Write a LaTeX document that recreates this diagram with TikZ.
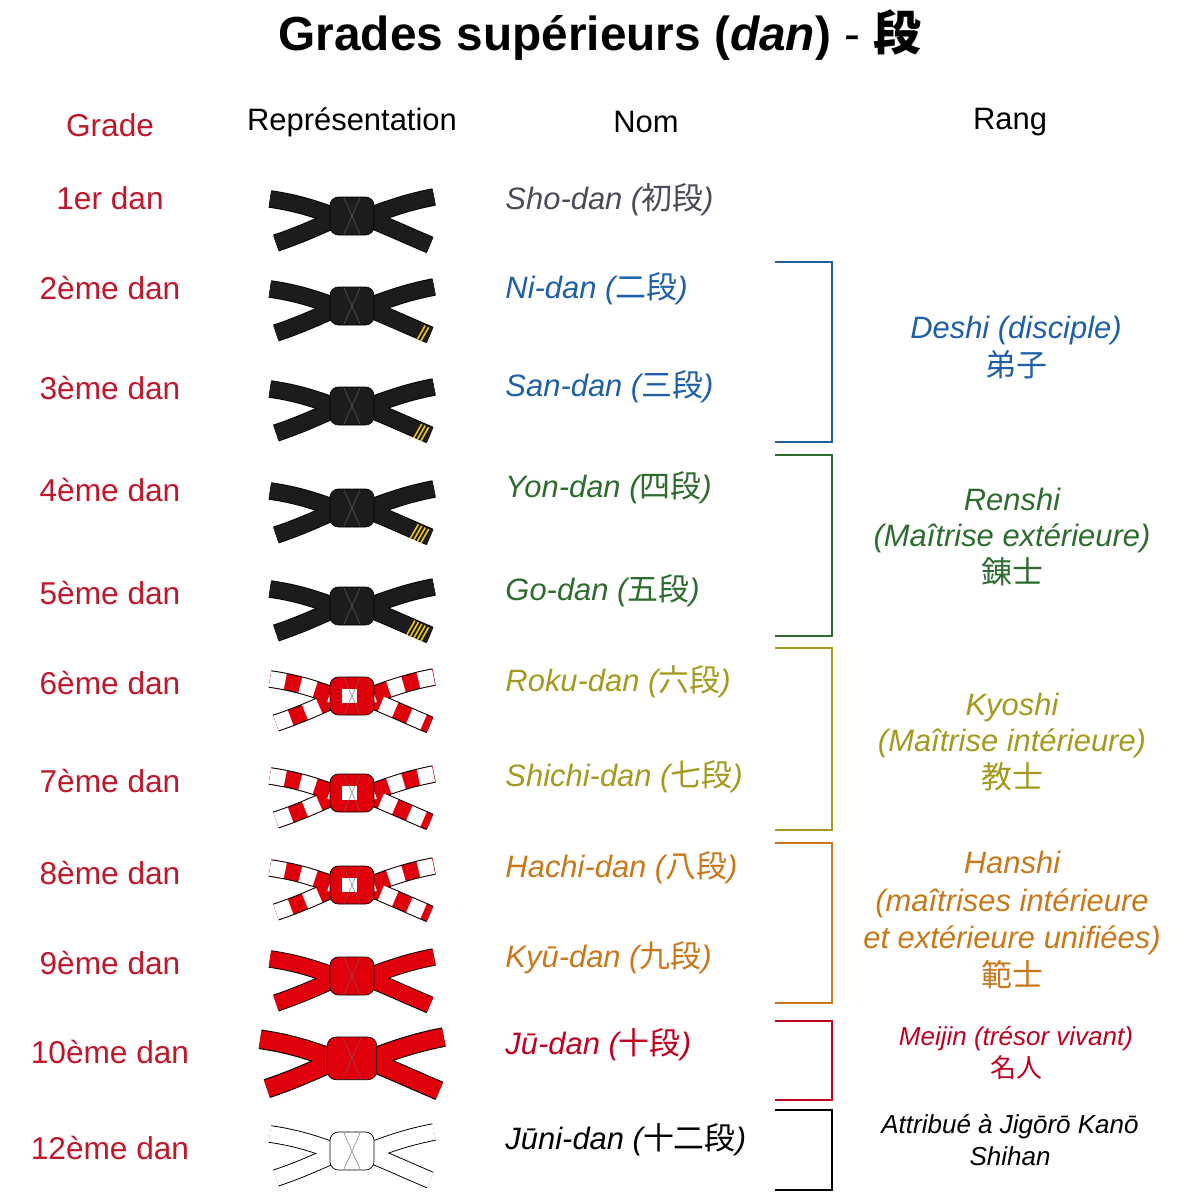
\documentclass[tikz,border=0pt]{standalone}
\usepackage{fontspec}
\setmainfont{Liberation Sans}
\newfontfamily\cjk{Noto Sans CJK JP}
\usetikzlibrary{calc}
\definecolor{cgrade}{HTML}{C0172B}
\definecolor{cblue}{HTML}{1F5FA8}
\definecolor{cgreen}{HTML}{2E6B2E}
\definecolor{colive}{HTML}{A39A1F}
\definecolor{corange}{HTML}{C8781A}
\definecolor{cred}{HTML}{C00020}
\definecolor{cgray}{HTML}{4A4A5A}
\definecolor{cblack}{HTML}{1C1C1C}
\definecolor{cyel}{HTML}{F2C81E}
\definecolor{bred}{HTML}{E0000B}
\newcommand{\beltshape}[1]{%
  \draw[#1] (-82,-14) .. controls (-40,-8) and (-20,4) .. (0,8) .. controls (20,4) and (40,-8) .. (82,-16);
  \draw[#1] (-76,30) .. controls (-40,18) and (-20,6) .. (0,0);
  \draw[#1] (0,0) .. controls (20,6) and (45,18) .. (78,32);}
\newcommand{\beltknot}[2]{%
  \filldraw[draw=black,fill=#1,line width=1pt,rounded corners=12pt] (-22,-16) rectangle (22,22);
  \draw[#2,line width=20pt] (-10,3) -- (10,3);
  \draw[black!60,line width=0.6pt] (-8,-15) -- (8,21) (8,-15) -- (-8,21);}
% #1 x, #2 y, #3 fill colour, #4 overlay style, #5 stripes
\newcommand{\mybelt}[5]{%
  \begin{scope}[shift={(#1,#2)}]
    \beltshape{line width=25pt,black}
    \beltshape{line width=22pt,#3}
    \beltshape{line width=22pt,#4}
    \beltknot{#3}{#4}
    \foreach \i in {1,...,#5}{\ifnum#5>0
      \draw[cyel,line width=2.2pt] ($(76,34)+(-3.4*\i,-1.7*\i)+(-4,6)$) -- ++(8,-14);\fi}
  \end{scope}}
\tikzset{
  grade/.style={text=cgrade,font=\fontsize{45}{50}\selectfont},
  head/.style={font=\fontsize{44}{50}\selectfont},
  nom/.style={anchor=west,font=\fontsize{44}{50}\selectfont\itshape},
  rang/.style={align=center,font=\fontsize{44}{52}\selectfont\itshape},
  brk/.style={line width=2.4pt},
  rw/.style={white,dash pattern=on 22pt off 22pt}
}
\begin{document}
\begin{tikzpicture}[x=0.05cm,y=-0.05cm]
\useasboundingbox (0,0) rectangle (1200,1200);
\node[font=\fontsize{68}{74}\selectfont\bfseries] (title) at (600,35) {Grades supérieurs (\textit{dan}) {\mdseries -} {\cjk 段}};
\node[grade] (hg) at (110,125) {Grade};
\node[head] (hr) at (352,122) {Représentation};
\node[head] (hn) at (646,122) {Nom};
\node[head] (hk) at (1010,122) {Rang};
\node[grade] (g1) at (110,198) {1er dan};
\node[grade] (g2) at (110,288) {2ème dan};
\node[grade] (g3) at (110,388) {3ème dan};
\node[grade] (g4) at (110,490) {4ème dan};
\node[grade] (g5) at (110,593) {5ème dan};
\node[grade] (g6) at (110,683) {6ème dan};
\node[grade] (g7) at (110,781) {7ème dan};
\node[grade] (g8) at (110,873) {8ème dan};
\node[grade] (g9) at (110,963) {9ème dan};
\node[grade] (g10) at (110,1052) {10ème dan};
\node[grade] (g12) at (110,1148) {12ème dan};
\mybelt{352}{213}{cblack}{cblack}{0}
\mybelt{352}{303}{cblack}{cblack}{2}
\mybelt{352}{403}{cblack}{cblack}{3}
\mybelt{352}{505}{cblack}{cblack}{4}
\mybelt{352}{603}{cblack}{cblack}{5}
\mybelt{352}{693}{bred}{rw}{0}
\mybelt{352}{790}{bred}{rw}{0}
\mybelt{352}{882}{bred}{rw}{0}
\mybelt{352}{973}{bred}{bred}{0}
\begin{scope}[shift={(352,1055)},scale=1.12]
\beltshape{line width=28pt,black}\beltshape{line width=25pt,bred}
\beltknot{bred}{bred}
\end{scope}
\mybelt{352}{1148}{white}{white}{0}
\node[nom,text=cgray] (n1) at (503,200) {Sho-dan ({\cjk\upshape 初段})};
\node[nom,text=cblue] (n2) at (503,289) {Ni-dan ({\cjk\upshape 二段})};
\node[nom,text=cblue] (n3) at (503,387) {San-dan ({\cjk\upshape 三段})};
\node[nom,text=cgreen] (n4) at (503,488) {Yon-dan ({\cjk\upshape 四段})};
\node[nom,text=cgreen] (n5) at (503,591) {Go-dan ({\cjk\upshape 五段})};
\node[nom,text=colive] (n6) at (503,682) {Roku-dan ({\cjk\upshape 六段})};
\node[nom,text=colive] (n7) at (503,777) {Shichi-dan ({\cjk\upshape 七段})};
\node[nom,text=corange] (n8) at (503,868) {Hachi-dan ({\cjk\upshape 八段})};
\node[nom,text=corange] (n9) at (503,958) {Kyū-dan ({\cjk\upshape 九段})};
\node[nom,text=cred] (n10) at (503,1045) {Jū-dan ({\cjk\upshape 十段})};
\node[nom,text=black] (n12) at (503,1140) {Jūni-dan ({\cjk\upshape 十二段})};
\coordinate (b1a) at (775,262); \coordinate (b1b) at (775,442);
\draw[brk,cblue] (b1a) -| (832,442) -- (b1b);
\coordinate (b2a) at (775,455); \coordinate (b2b) at (775,636);
\draw[brk,cgreen] (b2a) -| (832,636) -- (b2b);
\coordinate (b3a) at (775,648); \coordinate (b3b) at (775,830);
\draw[brk,colive] (b3a) -| (832,830) -- (b3b);
\coordinate (b4a) at (775,843); \coordinate (b4b) at (775,1003);
\draw[brk,corange] (b4a) -| (832,1003) -- (b4b);
\coordinate (b5a) at (775,1021); \coordinate (b5b) at (775,1100);
\draw[brk,cred] (b5a) -| (832,1100) -- (b5b);
\coordinate (b6a) at (775,1110); \coordinate (b6b) at (775,1190);
\draw[brk,black] (b6a) -| (832,1190) -- (b6b);
\node[rang,text=cblue] (r1) at (1016,348) {Deshi (disciple)\\[2pt]{\cjk\upshape 弟子}};
\node[rang,text=cgreen] (r2) at (1012,537) {Renshi\\(Maîtrise extérieure)\\{\cjk\upshape 錬士}};
\node[rang,text=colive] (r3) at (1012,742) {Kyoshi\\(Maîtrise intérieure)\\{\cjk\upshape 教士}};
\node[rang,text=corange,font=\fontsize{44}{54}\selectfont\itshape] (r4) at (1012,920) {Hanshi\\(maîtrises intérieure\\et extérieure unifiées)\\{\cjk\upshape 範士}};
\node[rang,text=cred,font=\fontsize{37}{46}\selectfont\itshape] (r5) at (1016,1053) {Meijin (trésor vivant)\\{\cjk\upshape 名人}};
\node[rang,text=black,font=\fontsize{37}{46}\selectfont\itshape] (r6) at (1010,1140) {Attribué à Jigōrō Kanō\\Shihan};
\end{tikzpicture}
\end{document}
